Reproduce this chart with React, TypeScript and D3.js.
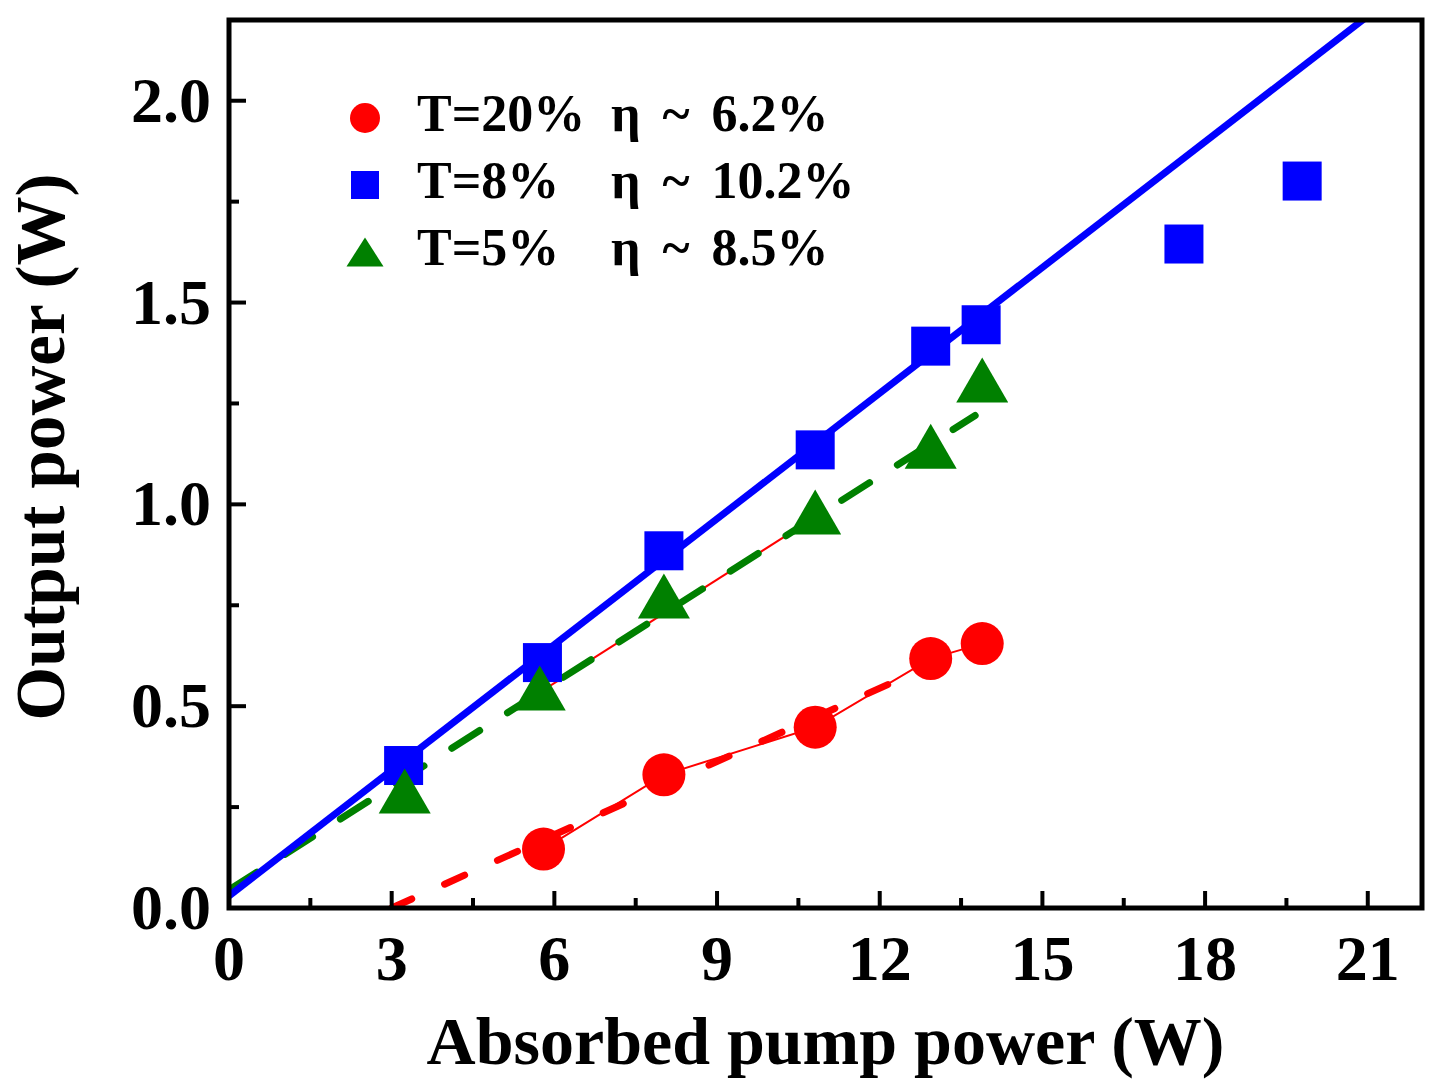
import React, { useEffect, useRef } from "react";
import * as d3 from "d3";

const width = 1446;
const height = 1089;
const margin = { left: 229, right: 24, top: 20, bottom: 181 };

const xTicks = [0, 3, 6, 9, 12, 15, 18, 21];
const yTicks = [0, 0.5, 1.0, 1.5, 2.0];

// T=8% (blue squares)
const pumpT8 = [3.22, 5.78, 8.02, 10.81, 12.94, 13.87, 17.61, 19.79];
const outT8 = [0.353, 0.608, 0.885, 1.135, 1.392, 1.445, 1.645, 1.801];

// T=5% (green triangles)
const pumpT5 = [3.24, 5.73, 8.02, 10.81, 12.94, 13.89];
const outT5 = [0.29, 0.545, 0.773, 0.981, 1.144, 1.308];

// T=20% (red circles)
const pumpT20 = [5.8, 8.02, 10.81, 12.94, 13.89];
const outT20 = [0.146, 0.33, 0.448, 0.618, 0.655];

// linear fits
const fitT8 = { from: 0, to: 21.5, slope: 0.1038, intercept: 0.03 };
const fitT5 = { from: 0, to: 13.76, slope: 0.0854, intercept: 0.045 };
const fitT20 = { from: 3.0, to: 14.0, slope: 0.0605, intercept: -0.1815 };

const legendT = ["T=20%", "T=8%", "T=5%"];
const legendEta = ["η ~ 6.2%", "η ~ 10.2%", "η ~ 8.5%"];
const legendColors = ["#ff0000", "#0000ff", "#008000"];

const font = "'Liberation Serif', 'Times New Roman', serif";

const App = () => {
  const svgRef = useRef(null);

  useEffect(() => {
    const svg = d3.select(svgRef.current);
    svg.selectAll("*").remove();

    const x = d3
      .scaleLinear()
      .domain([0, 22])
      .range([margin.left, width - margin.right]);
    const y = d3
      .scaleLinear()
      .domain([0, 2.2])
      .range([height - margin.bottom, margin.top]);

    svg
      .append("defs")
      .append("clipPath")
      .attr("id", "plot-clip")
      .append("rect")
      .attr("x", x(0))
      .attr("y", y(2.2))
      .attr("width", x(22) - x(0))
      .attr("height", y(0) - y(2.2));

    const plot = svg.append("g").attr("clip-path", "url(#plot-clip)");

    const line = d3
      .line<[number, number]>()
      .x((d) => x(d[0]))
      .y((d) => y(d[1]));

    const fitPoints = (f: any, from = f.from, to = f.to): [number, number][] => [
      [from, f.slope * from + f.intercept],
      [to, f.slope * to + f.intercept],
    ];

    // thin connecting lines
    plot
      .append("path")
      .attr("d", line(pumpT20.map((p, i) => [p, outT20[i]] as [number, number])))
      .attr("fill", "none")
      .attr("stroke", "#ff0000")
      .attr("stroke-width", 2);
    plot
      .append("path")
      .attr("d", line(fitPoints(fitT5, pumpT5[1], pumpT5[3])))
      .attr("fill", "none")
      .attr("stroke", "#ff0000")
      .attr("stroke-width", 2);

    // fits
    plot
      .append("path")
      .attr("d", line(fitPoints(fitT20)))
      .attr("fill", "none")
      .attr("stroke", "#ff0000")
      .attr("stroke-width", 7)
      .attr("stroke-linecap", "round")
      .attr("stroke-dasharray", "22 36");

    plot
      .append("path")
      .attr("d", line(fitPoints(fitT5)))
      .attr("fill", "none")
      .attr("stroke", "#008000")
      .attr("stroke-width", 7)
      .attr("stroke-linecap", "round")
      .attr("stroke-dasharray", "33 33");

    plot
      .append("path")
      .attr("d", line(fitPoints(fitT8)))
      .attr("fill", "none")
      .attr("stroke", "#0000ff")
      .attr("stroke-width", 7);

    // markers
    const sq = 39;
    plot
      .selectAll(".sq")
      .data(pumpT8)
      .enter()
      .append("rect")
      .attr("x", (d) => x(d) - sq / 2)
      .attr("y", (d, i) => y(outT8[i]) - sq / 2)
      .attr("width", sq)
      .attr("height", sq)
      .attr("fill", "#0000ff");

    const tri = (cx: number, cy: number, w: number, h: number) =>
      `M${cx},${cy - h / 2}L${cx + w / 2},${cy + h / 2}L${cx - w / 2},${cy + h / 2}Z`;

    plot
      .selectAll(".tri")
      .data(pumpT5)
      .enter()
      .append("path")
      .attr("d", (d, i) => tri(x(d), y(outT5[i]), 52, 45))
      .attr("fill", "#008000");

    plot
      .selectAll(".dot")
      .data(pumpT20)
      .enter()
      .append("circle")
      .attr("cx", (d) => x(d))
      .attr("cy", (d, i) => y(outT20[i]))
      .attr("r", 21.5)
      .attr("fill", "#ff0000");

    // frame
    svg
      .append("rect")
      .attr("x", x(0))
      .attr("y", y(2.2))
      .attr("width", x(22) - x(0))
      .attr("height", y(0) - y(2.2))
      .attr("fill", "none")
      .attr("stroke", "#000")
      .attr("stroke-width", 5);

    // x ticks
    const xMinor = d3.range(1.5, 22, 3);
    svg
      .selectAll(".xt")
      .data(xTicks)
      .enter()
      .append("line")
      .attr("x1", (d) => x(d))
      .attr("x2", (d) => x(d))
      .attr("y1", y(0))
      .attr("y2", y(0) - 17)
      .attr("stroke", "#000")
      .attr("stroke-width", 4);
    svg
      .selectAll(".xm")
      .data(xMinor)
      .enter()
      .append("line")
      .attr("x1", (d) => x(d))
      .attr("x2", (d) => x(d))
      .attr("y1", y(0))
      .attr("y2", y(0) - 10)
      .attr("stroke", "#000")
      .attr("stroke-width", 4);
    svg
      .selectAll(".xl")
      .data(xTicks)
      .enter()
      .append("text")
      .attr("x", (d) => x(d))
      .attr("y", y(0) + 72)
      .attr("text-anchor", "middle")
      .attr("font-family", font)
      .attr("font-weight", "bold")
      .attr("font-size", 64)
      .text((d) => d);

    // y ticks
    const yMinor = d3.range(0.25, 2.2, 0.5);
    svg
      .selectAll(".yt")
      .data(yTicks)
      .enter()
      .append("line")
      .attr("x1", x(0))
      .attr("x2", x(0) + 17)
      .attr("y1", (d) => y(d))
      .attr("y2", (d) => y(d))
      .attr("stroke", "#000")
      .attr("stroke-width", 4);
    svg
      .selectAll(".ym")
      .data(yMinor)
      .enter()
      .append("line")
      .attr("x1", x(0))
      .attr("x2", x(0) + 10)
      .attr("y1", (d) => y(d))
      .attr("y2", (d) => y(d))
      .attr("stroke", "#000")
      .attr("stroke-width", 4);
    svg
      .selectAll(".yl")
      .data(yTicks)
      .enter()
      .append("text")
      .attr("x", x(0) - 18)
      .attr("y", (d) => y(d) + 21)
      .attr("text-anchor", "end")
      .attr("font-family", font)
      .attr("font-weight", "bold")
      .attr("font-size", 64)
      .text((d) => d3.format(".1f")(d));

    // axis titles
    svg
      .append("text")
      .attr("x", (x(0) + x(22)) / 2)
      .attr("y", 1064)
      .attr("text-anchor", "middle")
      .attr("font-family", font)
      .attr("font-weight", "bold")
      .attr("font-size", 68)
      .text("Absorbed pump power (W)");

    svg
      .append("text")
      .attr("transform", "translate(64,447) rotate(-90)")
      .attr("text-anchor", "middle")
      .attr("font-family", font)
      .attr("font-weight", "bold")
      .attr("font-size", 69)
      .text("Output power (W)");

    // legend
    const legend = svg.append("g");
    legendT.forEach((label, i) => {
      const cy = 118 + i * 67;
      const cx = 365;
      if (i === 0) {
        legend.append("circle").attr("cx", cx).attr("cy", cy).attr("r", 15).attr("fill", legendColors[i]);
      } else if (i === 1) {
        legend
          .append("rect")
          .attr("x", cx - 14)
          .attr("y", cy - 14)
          .attr("width", 28)
          .attr("height", 28)
          .attr("fill", legendColors[i]);
      } else {
        legend.append("path").attr("d", tri(cx, cy, 37, 29)).attr("fill", legendColors[i]);
      }
      legend
        .append("text")
        .attr("x", 417)
        .attr("y", cy + 13)
        .attr("font-family", font)
        .attr("font-weight", "bold")
        .attr("font-size", 52)
        .text(label);
      legend
        .append("text")
        .attr("x", 611)
        .attr("y", cy + 13)
        .attr("font-family", font)
        .attr("font-weight", "bold")
        .attr("font-size", 52)
        .attr("word-spacing", 9)
        .text(legendEta[i]);
    });
  }, []);

  return (
    <svg
      ref={svgRef}
      width={width}
      height={height}
      style={{ position: "absolute", left: 0, top: 0, background: "#fff" }}
    />
  );
};

export default App;
